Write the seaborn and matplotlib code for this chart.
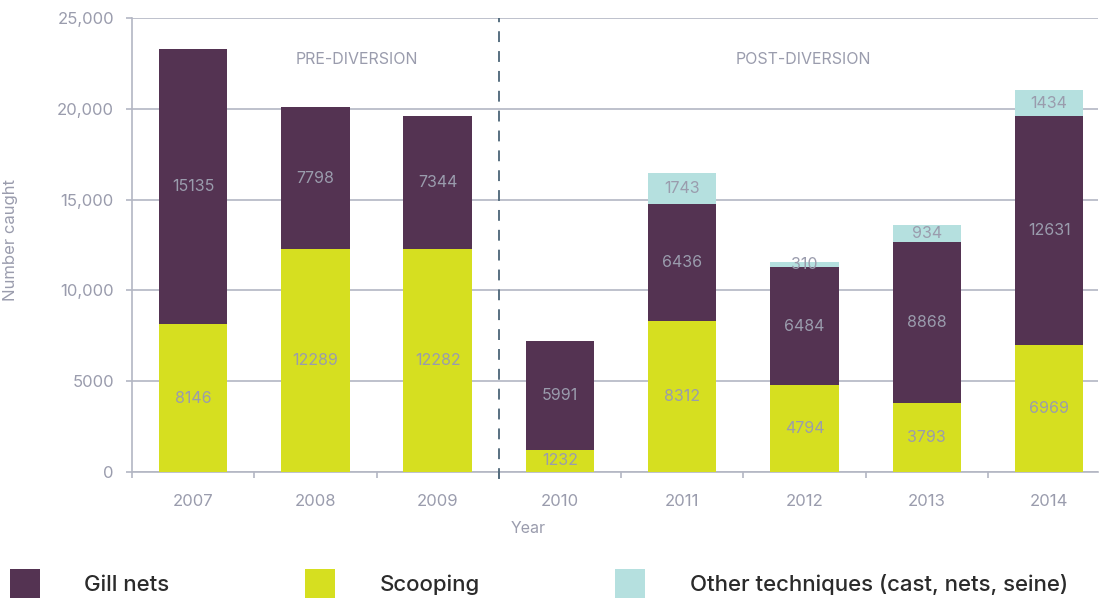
import matplotlib
matplotlib.use("Agg")
import matplotlib.pyplot as plt
import matplotlib.patches as mpatches
import seaborn as sns
import numpy as np
import pandas as pd

years = ["2007", "2008", "2009", "2010", "2011", "2012", "2013", "2014"]
scooping = [8146, 12289, 12282, 1232, 8312, 4794, 3793, 6969]
gill_nets = [15135, 7798, 7344, 5991, 6436, 6484, 8868, 12631]
other = [0, 0, 0, 0, 1743, 310, 934, 1434]
ytick_vals = [0, 5000, 10000, 15000, 20000, 25000]
ytick_labels = ["0", "5000", "10,000", "15,000", "20,000", "25,000"]
series_names = ["Gill nets", "Scooping", "Other techniques (cast, nets, seine)"]
period_labels = ["PRE-DIVERSION", "POST-DIVERSION"]

C_GILL = "#543352"
C_SCOOP = "#D6DF20"
C_OTHER = "#B5E0DF"
C_TEXT = "#9A9CAD"
C_GRID = "#B3B6C3"
C_DASH = "#4B6577"

sns.set_theme(style="white")
plt.rcParams["font.family"] = ["Inter", "DejaVu Sans"]

df = pd.DataFrame({"Year": years, "Scooping": scooping, "Gill": gill_nets, "Other": other})
df["SG"] = df["Scooping"] + df["Gill"]
df["Total"] = df["SG"] + df["Other"]

fig = plt.figure(figsize=(10.99, 5.98), dpi=100)
ax = fig.add_axes([132 / 1099, 1 - 472 / 598, (1098 - 132) / 1099, (472 - 18) / 598])

W = 0.56
sns.barplot(data=df, x="Year", y="Total", color=C_OTHER, width=W, saturation=1, ax=ax, zorder=3)
sns.barplot(data=df, x="Year", y="SG", color=C_GILL, width=W, saturation=1, ax=ax, zorder=3)
sns.barplot(data=df, x="Year", y="Scooping", color=C_SCOOP, width=W, saturation=1, ax=ax, zorder=3)
for p in ax.patches:
    p.set_linewidth(0)

# segment labels
for i in range(len(years)):
    s, g, o = scooping[i], gill_nets[i], other[i]
    kw = dict(ha="center", va="center", color=C_TEXT, fontsize=11.5, zorder=5)
    ax.text(i, s / 2, f"{s}", **kw)
    ax.text(i, s + g / 2, f"{g}", **kw)
    if o > 0:
        ax.text(i, s + g + o / 2, f"{o}", **kw)

ax.set_xlim(-0.5, 7.4)
ax.set_ylim(0, 25000)
ax.set_yticks(ytick_vals)
ax.set_yticklabels(ytick_labels)
ax.yaxis.grid(True, color=C_GRID, linewidth=1.2, zorder=0)
ax.set_axisbelow(True)

for side in ["top", "right"]:
    ax.spines[side].set_visible(False)
for side in ["left", "bottom"]:
    ax.spines[side].set_color(C_GRID)
    ax.spines[side].set_linewidth(1.2)

ax.tick_params(axis="y", which="major", left=True, length=4, width=1.2, color=C_GRID,
               labelsize=12, labelcolor=C_TEXT, pad=9)
ax.tick_params(axis="x", which="major", bottom=False, length=0, labelsize=12,
               labelcolor=C_TEXT, pad=16)
ax.set_xticks(np.arange(-0.5, 7.5, 1.0), minor=True)
ax.tick_params(axis="x", which="minor", bottom=True, length=4, width=1.2, color=C_GRID)

ax.set_xlabel("Year", fontsize=11.5, color=C_TEXT)
ax.xaxis.set_label_coords(0.41, -0.108)
ax.set_ylabel("Number caught", fontsize=12, color=C_TEXT)
ax.yaxis.set_label_coords(-0.118, 0.51)

ax.axvline(2.5, ymin=-0.015, ymax=1.0, color=C_DASH, linestyle=(0, (6, 5)),
           linewidth=1.3, zorder=4, clip_on=False)

ax.text(1.335, 22700, period_labels[0], ha="center", va="center", color=C_TEXT, fontsize=11.5)
ax.text(4.99, 22700, period_labels[1], ha="center", va="center", color=C_TEXT, fontsize=11.5)

handles = [mpatches.Patch(color=c, linewidth=0) for c in (C_GILL, C_SCOOP, C_OTHER)]
fig.legend(handles, series_names, loc="lower left", bbox_to_anchor=(0.009, 0.0),
           ncol=3, frameon=False, prop={"size": 16, "weight": "medium"},
           handlelength=1.35, handleheight=1.6,
           handletextpad=2.0, columnspacing=6.1, borderpad=0, borderaxespad=0,
           labelcolor="#2b2b2b")

fig.savefig("out.png", dpi=100)
